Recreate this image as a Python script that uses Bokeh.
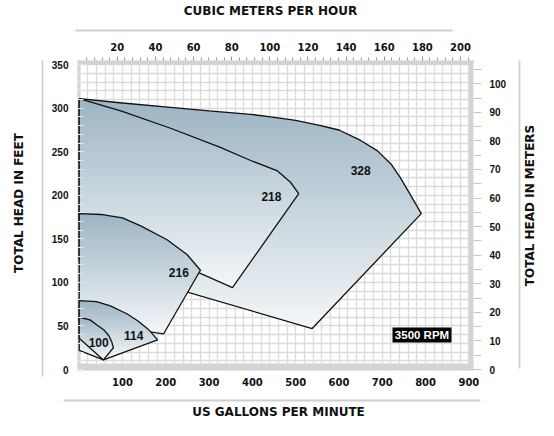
import math
from bokeh.plotting import figure
from bokeh.models import LinearAxis, Range1d, FixedTicker, ColumnDataSource
from bokeh.core.properties import value
from bokeh.embed import file_html
from bokeh.resources import INLINE

# ---------------- data ----------------
gpm_ticks = [100, 200, 300, 400, 500, 600, 700, 800, 900]
ft_ticks = [0, 50, 100, 150, 200, 250, 300, 350]
m_ticks = [0, 10, 20, 30, 40, 50, 60, 70, 80, 90, 100]
m3h_ticks = [20, 40, 60, 80, 100, 120, 140, 160, 180, 200]
gpm_grid = list(range(0, 901, 20))
ft_grid = list(range(0, 351, 10))

region_names = ["328", "218", "216", "114", "100"]
r328_gpm = [0, 100, 211, 300, 396, 442, 500, 550, 600, 650, 689, 720, 742, 768, 790, 538, 0]
r328_ft = [311, 306, 301, 297, 293, 290, 286, 281, 275, 263, 251, 236, 220, 198, 179, 47, 125]
r218_gpm = [0, 96, 211, 326, 396, 458, 488, 507, 354, 0]
r218_ft = [311, 297, 277, 255, 240, 228, 215, 202, 94, 172]
r216_gpm = [0, 50, 100, 142, 203, 249, 280, 195, 0]
r216_ft = [179, 178, 174, 165, 149, 132, 114, 41, 55]
r114_gpm = [0, 40, 72, 110, 135, 160, 181, 56, 0]
r114_ft = [79, 78, 73, 64, 56, 46, 34, 11, 22]
r100_gpm = [0, 25, 41, 58, 68, 75, 79, 56, 0]
r100_ft = [60, 57, 51, 45, 39, 32, 25, 11, 36]

label_gpm = [650, 444, 230, 126, 45]
label_ft = [228, 199, 111, 39, 31]
rpm_label = "3500 RPM"

x_title = "US GALLONS PER MINUTE"
x2_title = "CUBIC METERS PER HOUR"
y_title = "TOTAL HEAD IN FEET"
y2_title = "TOTAL HEAD IN METERS"

GPM_PER_M3H = 4.403
FT_PER_M = 3.281

# ---------------- geometry (pixels of the picture) ----------------
W, H = 538, 420
GX0, PXG = 78.7, 0.433     # pixel of 0 gpm, pixels per gpm
FY0, PXF = 369.0, 0.8709   # pixel of 0 ft, pixels per ft


def gx(px):
    return (px - GX0) / PXG


def fy(py):
    return (FY0 - py) / PXF


XA, XB = gx(0), gx(W)
YA, YB = fy(H), fy(0)

p = figure(width=W, height=H, title=None,
           x_range=Range1d(XA, XB), y_range=Range1d(YA, YB),
           output_backend="svg", toolbar_location=None,
           x_axis_location=None, y_axis_location=None,
           min_border_left=0, min_border_right=0,
           min_border_top=0, min_border_bottom=0)
p.extra_x_ranges = {"m3h": Range1d(XA / GPM_PER_M3H, XB / GPM_PER_M3H)}
p.extra_y_ranges = {"m": Range1d(YA / FT_PER_M, YB / FT_PER_M)}
p.background_fill_color = "white"
p.border_fill_color = "white"
p.outline_line_color = None

p.xgrid.ticker = FixedTicker(ticks=gpm_grid)
p.ygrid.ticker = FixedTicker(ticks=ft_grid)
for g in (p.xgrid, p.ygrid):
    g.grid_line_color = "#dcdcdc"
    g.grid_line_width = 1.3

# box of the chart area (pixels)
BL, BR, BT, BB = 77, 473, 60, 370

# white mask outside the chart box (hides grid there)
p.quad(left=[XA, gx(BR), gx(BL), gx(BL)], right=[gx(BL), XB, gx(BR), gx(BR)],
       bottom=[YA, YA, fy(BT), YA], top=[YB, YB, YB, fy(BB)],
       fill_color="white", line_color=None)

# gray frame border
BORDER = "#d4d4d4"
p.quad(left=[gx(BL), gx(468.4), gx(BL), gx(BL)], right=[gx(80), gx(BR), gx(BR), gx(BR)],
       bottom=[fy(BB), fy(BB), fy(64.2), fy(BB)], top=[fy(BT), fy(BT), fy(BT), fy(363)],
       fill_color=BORDER, line_color=None)

# separator rules
SEP = "#cfcfcf"
p.segment(x0=[gx(75), gx(42), gx(519), gx(63)], y0=[fy(30), fy(60), fy(60), fy(400)],
          x1=[gx(452), gx(42), gx(519), gx(480)], y1=[fy(30), fy(376), fy(368), fy(400)],
          line_color=SEP, line_width=1.8)

# ---------------- regions with vertical gradient ----------------
TOP_C = (157, 180, 195)
BOT_C = (244, 247, 249)


def hexcol(t):
    c = [round(TOP_C[i] + (BOT_C[i] - TOP_C[i]) * t) for i in range(3)]
    return "#%02x%02x%02x" % tuple(c)


def clip_poly(pts, keep, inter):
    out = []
    n = len(pts)
    for i in range(n):
        cur, prev = pts[i], pts[i - 1]
        ci, pi_ = keep(cur), keep(prev)
        if ci:
            if not pi_:
                out.append(inter(prev, cur))
            out.append(cur)
        elif pi_:
            out.append(inter(prev, cur))
    return out


def cross(a, b, yv):
    t = (yv - a[1]) / (b[1] - a[1])
    return (a[0] + t * (b[0] - a[0]), yv)


def bands(xs, ys):
    ymin, ymax = min(ys), max(ys)
    n = max(8, int(math.ceil((ymax - ymin) * PXF / 2.5)))
    h = (ymax - ymin) / n
    pts0 = list(zip(xs, ys))
    bx, by, bc = [], [], []
    for k in range(n):
        lo = ymin + k * h
        hi = lo + h + 0.9
        pts = clip_poly(pts0, lambda q: q[1] >= lo, lambda a, b: cross(a, b, lo))
        if len(pts) < 3:
            continue
        pts = clip_poly(pts, lambda q: q[1] <= hi, lambda a, b: cross(a, b, hi))
        if len(pts) < 3:
            continue
        bx.append([q[0] for q in pts])
        by.append([q[1] for q in pts])
        mid = min(lo + h / 2, ymax)
        bc.append(hexcol((ymax - mid) / (ymax - ymin)))
    return bx, by, bc


regions = [(r328_gpm, r328_ft), (r218_gpm, r218_ft), (r216_gpm, r216_ft),
           (r114_gpm, r114_ft), (r100_gpm, r100_ft)]
for xs, ys in regions:
    bx, by, bc = bands(xs, ys)
    src = ColumnDataSource(dict(xs=bx, ys=by, c=bc))
    p.patches("xs", "ys", source=src, fill_color="c", line_color=None)
    p.line(xs + [xs[0]], ys + [ys[0]], line_color="#111111", line_width=1.3)

# region labels
p.text(x=label_gpm, y=label_ft, text=region_names,
       text_font=value("Liberation Sans"), text_font_style="bold",
       text_font_size="12px", text_color="#111111",
       text_align="center", text_baseline="middle")

# 3500 RPM badge
p.quad(left=[gx(392)], right=[gx(451)], bottom=[fy(342)], top=[fy(327)],
       fill_color="black", line_color=None)
p.text(x=[gx(421.5)], y=[fy(334.5)], text=[rpm_label],
       text_font=value("Liberation Sans"), text_font_style="bold",
       text_font_size="11.5px", text_color="white",
       text_align="center", text_baseline="middle")

# ---------------- axes (fixed at the chart box edges) ----------------
def style_labels(ax, font):
    ax.axis_line_color = None
    ax.major_label_text_font = font
    ax.major_label_text_font_style = "bold"
    ax.major_label_text_font_size = "10px"
    ax.major_label_text_color = "#111111"


# left: feet
ya = LinearAxis(fixed_location=gx(BL),
                ticker=FixedTicker(ticks=ft_ticks, minor_ticks=ft_grid))
style_labels(ya, "Liberation Sans")
ya.major_tick_in = 6
ya.minor_tick_in = 6
ya.major_tick_out = 0
ya.minor_tick_out = 0
ya.major_tick_line_color = "#e4eaee"
ya.minor_tick_line_color = "#e4eaee"
ya.major_label_standoff = 9
p.add_layout(ya, "left")

# right: meters
ra = LinearAxis(y_range_name="m", fixed_location=gx(BR),
                ticker=FixedTicker(ticks=m_ticks,
                                   minor_ticks=[5, 15, 25, 35, 45, 55, 65, 75, 85, 95, 105]))
style_labels(ra, "Liberation Sans")
ra.major_tick_out = 8
ra.minor_tick_out = 8
ra.major_tick_in = 0
ra.minor_tick_in = 0
ra.major_tick_line_color = "#c4c4c4"
ra.minor_tick_line_color = "#c4c4c4"
ra.major_label_standoff = 8
p.add_layout(ra, "right")

# top: cubic meters per hour
ta = LinearAxis(x_range_name="m3h", fixed_location=fy(BT),
                ticker=FixedTicker(ticks=m3h_ticks, minor_ticks=list(range(4, 205, 4))))
style_labels(ta, "DejaVu Sans")
ta.major_tick_out = 4
ta.minor_tick_out = 3
ta.major_tick_in = 0
ta.minor_tick_in = 0
ta.major_tick_line_color = "#9a9a9a"
ta.minor_tick_line_color = "#9a9a9a"
ta.major_label_standoff = 6
p.add_layout(ta, "above")

# bottom: gallons per minute
ba = LinearAxis(fixed_location=fy(BB), ticker=FixedTicker(ticks=gpm_ticks))
style_labels(ba, "DejaVu Sans")
ba.major_tick_out = 0
ba.minor_tick_out = 0
ba.major_tick_in = 0
ba.minor_tick_in = 0
ba.major_tick_line_color = None
ba.minor_tick_line_color = None
ba.major_label_standoff = 7
p.add_layout(ba, "below")

# ---------------- axis titles ----------------
TITLE_KW = dict(text_font=value("DejaVu Sans"), text_font_style="bold",
                text_font_size="12px", text_color="#111111",
                text_align="center", text_baseline="alphabetic")
p.text(x=[gx(270), gx(278)], y=[fy(10.5), fy(411.5)], text=[x2_title, x_title], **TITLE_KW)
p.text(x=[gx(18), gx(529)], y=[fy(202.5), fy(205)], text=[y_title, y2_title],
       angle=math.pi / 2, **TITLE_KW)

open("out.html", "w").write(file_html(p, INLINE))
